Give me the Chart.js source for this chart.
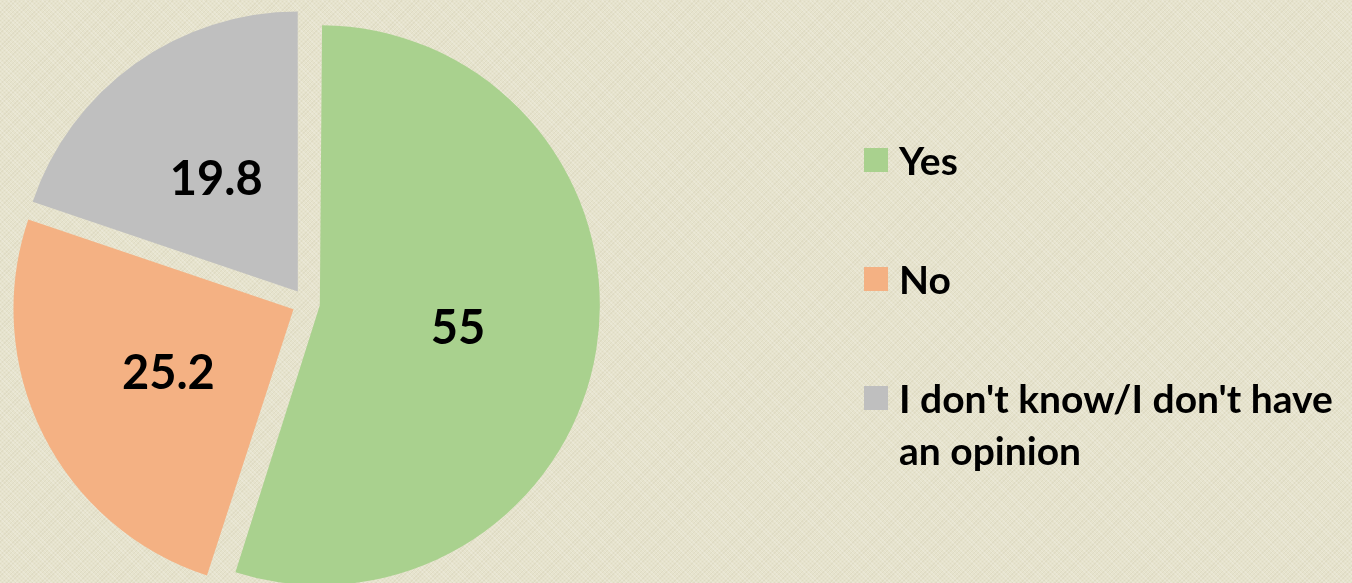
<!DOCTYPE html>
<html>
<head>
<meta charset="utf-8">
<script src="https://cdn.jsdelivr.net/npm/chart.js@4/dist/chart.umd.min.js"></script>
<style>
  html, body { margin: 0; padding: 0; }
  body {
    width: 1352px; height: 583px; overflow: hidden; position: relative;
    background-color: #e6e3cd;
    background-image:
      repeating-linear-gradient(45deg, rgba(255,255,255,0.18) 0 1px, transparent 1px 3px),
      repeating-linear-gradient(-45deg, rgba(160,150,110,0.10) 0 1px, transparent 1px 3px);
    font-family: "Lato", "Open Sans", sans-serif;
  }
  #chart-wrap { position: absolute; left: 0; top: 0; width: 1352px; height: 583px; }
  #legend { position: absolute; left: 864px; top: 134px; margin: 0; padding: 0; list-style: none; }
  #legend li { position: relative; padding-left: 35px; font-weight: 700; font-size: 39px; line-height: 52px; color: #000; margin-bottom: 67px; width: 445px; }
  #legend li:last-child { margin-bottom: 0; }
  #legend li span.box { position: absolute; left: 0; top: 14px; width: 24px; height: 24px; }
</style>
</head>
<body>
<div id="chart-wrap"><canvas id="pie"></canvas></div>
<ul id="legend"></ul>
<script>
const categories = ["Yes", "No", "I don't know/I don't have an opinion"];
const shares = [55, 25.2, 19.8];
const sliceColors = ["#a9d18e", "#f4b183", "#bfbfbf"];

const pieCanvas = document.getElementById("pie").getContext("2d");

// Chart.js grows the radius of wide exploded slices by offset/4 * fix;
// undo that so every slice keeps the same radius
const evenRadius = {
  id: "evenRadius",
  beforeDatasetsDraw(chart) {
    chart.getDatasetMeta(0).data.forEach((arc) => {
      const circ = arc.endAngle - arc.startAngle;
      const fix = 1 - Math.sin(Math.min(Math.PI, circ));
      arc.outerRadius = chart.options.radius - (arc.options.offset / 4) * fix;
    });
  },
};

// values written inside each slice
const sliceLabels = {
  id: "sliceLabels",
  afterDatasetsDraw(chart) {
    const ctx = chart.ctx;
    const meta = chart.getDatasetMeta(0);
    ctx.save();
    ctx.font = "bold 47px Lato, 'Open Sans', sans-serif";
    ctx.fillStyle = "#000";
    ctx.textAlign = "center";
    ctx.textBaseline = "middle";
    meta.data.forEach((arc, i) => {
      const mid = (arc.startAngle + arc.endAngle) / 2;
      const shift = arc.options.offset / 4;
      const r = shift + chart.options.radius / 2;
      ctx.fillText(String(chart.data.datasets[0].data[i]), arc.x + Math.cos(mid) * r, arc.y + Math.sin(mid) * r + 2);
    });
    ctx.restore();
  },
};

const pieConfig = {
  type: "pie",
  data: {
    labels: categories,
    datasets: [
      {
        data: shares,
        backgroundColor: sliceColors,
        borderWidth: 0,
        offset: 56,
        hoverOffset: 56,
      },
    ],
  },
  options: {
    responsive: false,
    animation: false,
    radius: 280,
    layout: { padding: { left: 0, right: 740, top: 23, bottom: 0 } },
    plugins: {
      legend: { display: false },
      tooltip: { enabled: false },
    },
  },
  plugins: [evenRadius, sliceLabels],
};

const cv = document.getElementById("pie");
cv.width = 1352;
cv.height = 583;
const pieChart = new Chart(pieCanvas, pieConfig);

// legend built from the same arrays
const legendList = document.getElementById("legend");
categories.forEach((name, i) => {
  const li = document.createElement("li");
  const box = document.createElement("span");
  box.className = "box";
  box.style.background = sliceColors[i];
  li.appendChild(box);
  li.appendChild(document.createTextNode(name));
  legendList.appendChild(li);
});
</script>
</body>
</html>
